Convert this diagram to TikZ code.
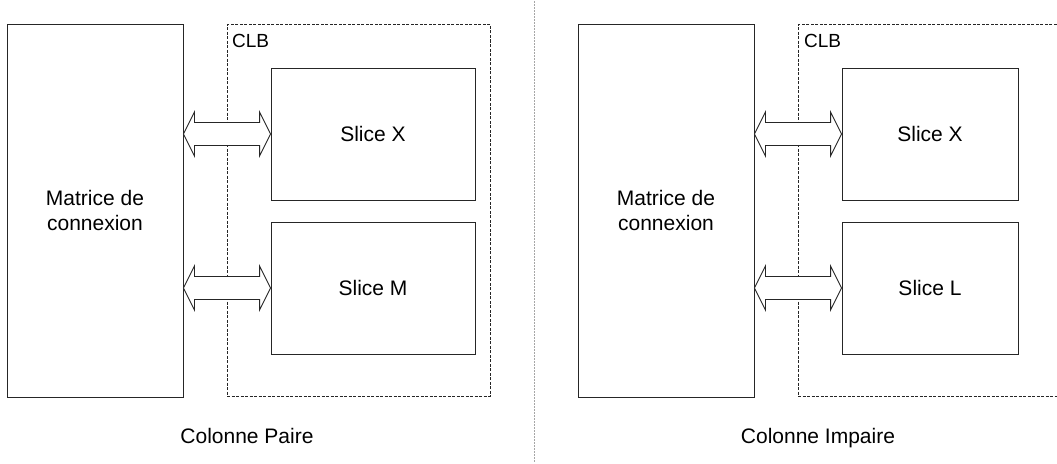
\documentclass[tikz,border=0pt]{standalone}
\usepackage{fontspec}
\setmainfont{Liberation Sans}
\usetikzlibrary{calc}

% double-headed bus arrow between two boxes, at height #3
\newcommand{\busarrow}[3]{%
  \draw[bus] (#1.east |- 0,#3) -- ++(11,-22) -- ++(0,10.5)
    -- ($(#2.west |- 0,#3)+(-11,-11.5)$) -- ++(0,-10.5) -- (#2.west |- 0,#3)
    -- ++(-11,22) -- ++(0,-10.5) -- ($(#1.east |- 0,#3)+(11,11.5)$)
    -- ++(0,10.5) -- cycle;}

\begin{document}
\begin{tikzpicture}[x=1pt,y=-1pt,
    blk/.style={draw=black!85,line width=0.9pt,inner sep=0pt,align=center,
      font=\fontsize{21}{25.5}\selectfont},
    clb/.style={draw=black!85,line width=0.8pt,dash pattern=on 3pt off 1.5pt,inner sep=0pt},
    clbtxt/.style={anchor=base west,inner sep=0pt,font=\fontsize{19}{22}\selectfont},
    bus/.style={draw=black!85,line width=0.9pt,fill=white,line join=miter},
    lbl/.style={inner sep=0pt,font=\fontsize{21}{25.5}\selectfont}]
    \useasboundingbox (0,0) rectangle (1057,463);

    % colonne paire
    \node[clb,minimum width=263pt,minimum height=371.5pt] (clb1) at (358.5,210.25) {};
    \node[clbtxt] (clbl1) at (232,47) {CLB};
    \node[blk,minimum width=176pt,minimum height=373pt] (mat1) at (95,210.5) {Matrice de\\connexion};
    \node[blk,minimum width=204pt,minimum height=132pt] (sx1) at (373,134) {Slice X};
    \node[blk,minimum width=204pt,minimum height=132pt] (sm1) at (373,288) {Slice M};
    \busarrow{mat1}{sx1}{134}
    \busarrow{mat1}{sm1}{288}
    \node[lbl,anchor=base] (col1) at (247,443) {Colonne Paire};

    % separation
    \coordinate (sep1) at (534,1);
    \coordinate (sep2) at (534,463);
    \draw[gray!70,line width=0.9pt,dash pattern=on 1.5pt off 1.5pt] (sep1) -- (sep2);

    % colonne impaire
    \node[clb,minimum width=263pt,minimum height=371.5pt] (clb2) at (929.5,210.25) {};
    \node[clbtxt] (clbl2) at (804,47) {CLB};
    \node[blk,minimum width=176pt,minimum height=373pt] (mat2) at (666,210.5) {Matrice de\\connexion};
    \node[blk,minimum width=176pt,minimum height=132pt] (sx2) at (930,134) {Slice X};
    \node[blk,minimum width=176pt,minimum height=132pt] (sl2) at (930,288) {Slice L};
    \busarrow{mat2}{sx2}{134}
    \busarrow{mat2}{sl2}{288}
    \node[lbl,anchor=base] (col2) at (818,443) {Colonne Impaire};
\end{tikzpicture}
\end{document}
